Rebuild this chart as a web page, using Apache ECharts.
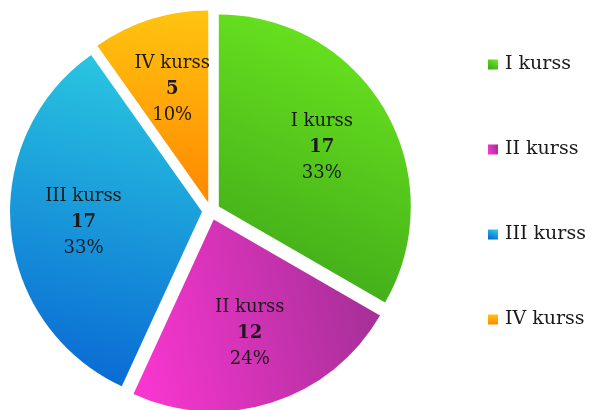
<!DOCTYPE html>
<html>
<head>
<meta charset="utf-8">
<script src="https://cdn.jsdelivr.net/npm/echarts@6/dist/echarts.min.js"></script>
<style>
  html, body { margin: 0; padding: 0; background: #fff; }
  #chart { width: 593px; height: 410px; }
</style>
</head>
<body>
<div id="chart"></div>
<script>
const categories = ["I kurss", "II kurss", "III kurss", "IV kurss"];
const values = [17, 12, 17, 5];
const percents = [33, 24, 33, 10];
// gradient stops per slice: [from, to, x, y, x2, y2]
const gradients = [
  ["#6ce81f", "#3ea619", 0.8, 0, 0.2, 1],
  ["#f736cf", "#a22f95", 0, 0.6, 1, 0.3],
  ["#2ac9e0", "#0968d4", 0.7, 0, 0.3, 1],
  ["#ffc410", "#ff8800", 0.5, 0, 0.5, 1]
];

let chart = echarts.init(document.getElementById("chart"));

let data = categories.map((name, i) => {
  let g = gradients[i];
  return {
    name: name,
    value: values[i],
    selected: true,
    itemStyle: {
      color: new echarts.graphic.LinearGradient(g[2], g[3], g[4], g[5], [
        { offset: 0, color: g[0] },
        { offset: 1, color: g[1] }
      ])
    }
  };
});

let labelData = categories.map((name, i) => ({
  name: name,
  value: values[i],
  selected: true
}));

let font = "DejaVu Serif";

let option = {
  animation: false,
  legend: {
    orient: "vertical",
    left: 483,
    top: 49,
    itemWidth: 10,
    itemHeight: 10,
    itemGap: 64,
    icon: "rect",
    textStyle: {
      fontFamily: font,
      fontSize: 19,
      color: "#1a1a1a",
      lineHeight: 21,
      padding: [0, 0, 0, 2]
    },
    data: categories
  },
  series: [
    {
      type: "pie",
      center: [211, 211],
      radius: [0, 192],
      startAngle: 90,
      selectedMode: "multiple",
      selectedOffset: 9,
      silent: true,
      label: { show: false },
      labelLine: { show: false },
      data
    },
    {
      // transparent copy, only to place the labels further out like the original
      type: "pie",
      center: [211, 211],
      radius: [40, 192],
      startAngle: 90,
      selectedMode: "multiple",
      selectedOffset: 9,
      silent: true,
      itemStyle: { color: "rgba(0,0,0,0)" },
      label: {
        show: true,
        position: "inside",
        formatter: function (p) {
          return "{n|" + p.name + "}\n{v|" + p.value + "}\n{p|" + percents[p.dataIndex] + "%}";
        },
        rich: {
          n: { fontFamily: font, fontSize: 18, color: "#1a1a1a", lineHeight: 26 },
          v: { fontFamily: font, fontSize: 18, fontWeight: "bold", color: "#1a1a1a", lineHeight: 26 },
          p: { fontFamily: font, fontSize: 18, color: "#1a1a1a", lineHeight: 26 }
        }
      },
      labelLine: { show: false },
      data: labelData
    }
  ]
};
chart.setOption(option);
</script>
</body>
</html>
